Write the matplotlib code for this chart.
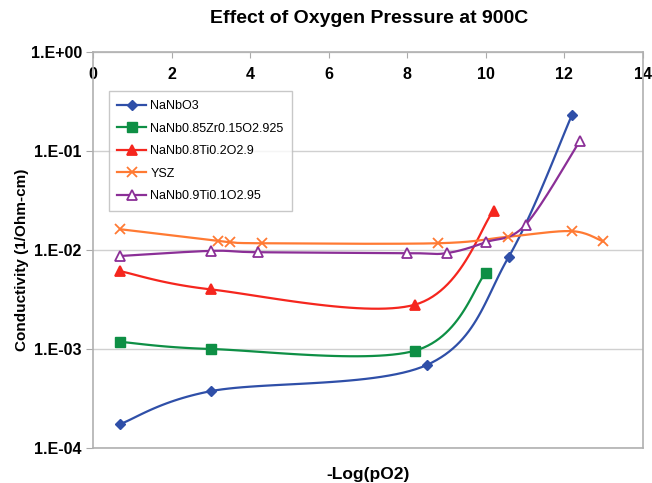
import numpy as np
import matplotlib
matplotlib.use("Agg")
import matplotlib.pyplot as plt
from matplotlib.ticker import FixedLocator

plt.rcParams['font.family'] = ['Liberation Sans', 'DejaVu Sans']

# data
labels = ['NaNbO3', 'NaNb0.85Zr0.15O2.925', 'NaNb0.8Ti0.2O2.9', 'YSZ', 'NaNb0.9Ti0.1O2.95']

x_nbo = [0.7, 3.0, 8.5, 10.58, 12.19]
y_nbo = [1.75e-4, 3.75e-4, 6.9e-4, 8.5e-3, 0.23]

x_zr = [0.7, 3.0, 8.19, 10.0]
y_zr = [1.18e-3, 1.0e-3, 9.6e-4, 5.9e-3]

x_ti2 = [0.7, 3.0, 8.19, 10.2]
y_ti2 = [6.1e-3, 4.0e-3, 2.8e-3, 0.025]

x_ysz = [0.7, 3.18, 3.49, 4.29, 8.78, 10.56, 12.19, 12.98]
y_ysz = [0.0162, 0.0124, 0.012, 0.0117, 0.0117, 0.0136, 0.0155, 0.0122]

x_ti1 = [0.7, 3.0, 4.2, 7.99, 9.0, 10.0, 11.01, 12.39]
y_ti1 = [8.7e-3, 9.8e-3, 9.5e-3, 9.3e-3, 9.3e-3, 0.012, 0.018, 0.126]

ytick_labels = ['1.E-04', '1.E-03', '1.E-02', '1.E-01', '1.E+00']

colors = ['#2F4FA8', '#0E8F45', '#F5261E', '#FF7A33', '#8B2F97']


def smooth(xs, ys, sx=39.3, sy=99.0, n=30):
    # excel-like smoothing: catmull-rom bezier in screen space
    px = np.array(xs) * sx
    py = np.log10(ys) * sy
    out_x, out_y = [], []
    m = len(px)
    for i in range(m - 1):
        p0 = (px[max(i - 1, 0)], py[max(i - 1, 0)])
        p1 = (px[i], py[i])
        p2 = (px[i + 1], py[i + 1])
        p3 = (px[min(i + 2, m - 1)], py[min(i + 2, m - 1)])
        c1 = (p1[0] + (p2[0] - p0[0]) / 6, p1[1] + (p2[1] - p0[1]) / 6)
        c2 = (p2[0] - (p3[0] - p1[0]) / 6, p2[1] - (p3[1] - p1[1]) / 6)
        t = np.linspace(0, 1, n)
        bx = (1-t)**3*p1[0] + 3*(1-t)**2*t*c1[0] + 3*(1-t)*t**2*c2[0] + t**3*p2[0]
        by = (1-t)**3*p1[1] + 3*(1-t)**2*t*c1[1] + 3*(1-t)*t**2*c2[1] + t**3*p2[1]
        out_x.extend(bx)
        out_y.extend(by)
    return np.array(out_x) / sx, 10 ** (np.array(out_y) / sy)


fig = plt.figure(figsize=(6.52, 4.83), dpi=100)
ax = fig.add_axes([0.1426, 0.0725, 0.8436, 0.8198])

series = [(x_nbo, y_nbo, 'D', 5, colors[0]),
          (x_zr, y_zr, 's', 6.5, colors[1]),
          (x_ti2, y_ti2, '^', 7, colors[2]),
          (x_ysz, y_ysz, 'x', 7, colors[3]),
          (x_ti1, y_ti1, '^', 7, colors[4])]

for (xs, ys, mk, ms, c), lab in zip(series, labels):
    sxs, sys_ = smooth(xs, ys)
    face = 'white' if lab == 'NaNb0.9Ti0.1O2.95' else c
    ax.plot(sxs, sys_, color=c, lw=1.6, zorder=3)
    ax.plot(xs, ys, linestyle='none', marker=mk, ms=ms, color=c,
            markerfacecolor=face, markeredgewidth=1.3 if mk in ('x', '^') else 1, zorder=4)
    ax.plot([], [], color=c, lw=1.6, marker=mk, ms=ms, markerfacecolor=face,
            markeredgewidth=1.3 if mk in ('x', '^') else 1, label=lab)

ax.set_yscale('log')
ax.set_ylim(1e-4, 1)
ax.set_xlim(0, 14)
ax.yaxis.set_major_locator(FixedLocator([1e-4, 1e-3, 1e-2, 1e-1, 1]))
ax.yaxis.set_minor_locator(FixedLocator([]))
ax.set_yticklabels(ytick_labels)
ax.set_xticks(range(0, 15, 2))
ax.tick_params(axis='x', top=True, labeltop=True, bottom=False, labelbottom=False,
               direction='in', length=4, color='#AAAAAA', labelsize=11.5, pad=-21.5)
ax.tick_params(axis='y', direction='out', length=5, color='#AAAAAA', labelsize=11.5, pad=3)
for lbl in ax.get_xticklabels() + ax.get_yticklabels():
    lbl.set_fontweight('bold')

ax.grid(axis='y', color='#D0D0D0', lw=1)
for s in ax.spines.values():
    s.set_color('#B0B0B0')
    s.set_linewidth(1.2)

ax.set_ylabel('Conductivity (1/Ohm-cm)', fontsize=11, fontweight='bold')
ax.yaxis.set_label_coords(-0.117, 0.475)
fig.text(0.565, 0.017, '-Log(pO2)', ha='center', va='center', fontsize=12.5, fontweight='bold')
fig.text(0.566, 0.962, 'Effect of Oxygen Pressure at 900C', ha='center', va='center',
         fontsize=14, fontweight='bold')

leg = ax.legend(loc='upper left', bbox_to_anchor=(0.017, 0.917), fontsize=9, frameon=True,
                fancybox=False, edgecolor='#BBBBBB', handlelength=2.3, borderpad=0.7,
                labelspacing=0.85, handletextpad=0.35)
leg.get_frame().set_linewidth(1)

fig.savefig('out.png', dpi=100)
